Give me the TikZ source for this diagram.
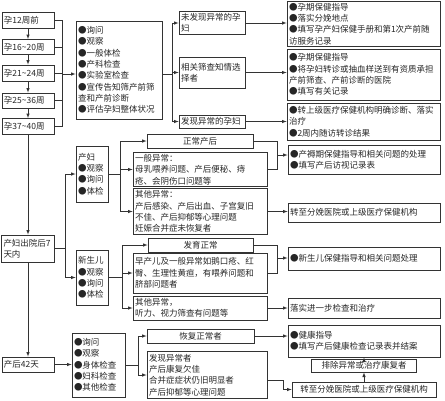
\documentclass[tikz,border=0pt]{standalone}
\usepackage{fontspec}
\setmainfont{Noto Sans CJK SC}
\usetikzlibrary{positioning, arrows}

\begin{document}
\begin{tikzpicture}[x=1pt, y=-1pt,
    caja/.style={draw=black!80, line width=0.8pt, inner sep=2pt, align=left,
        font=\fontsize{8.5}{11.3}\selectfont, text=black!85},
    centro/.style={caja, align=center},
    linea/.style={draw=black!80, line width=0.6pt},
    flecha/.style={linea, -latex}]
    \useasboundingbox (0,0) rectangle (445,400);

    % Semanas de embarazo
    \node[caja, text width=48pt, minimum height=16pt] (s12) at (28,20) {孕12周前};
    \node[caja, text width=48pt, minimum height=15pt] (s16) at (28,47) {孕16\textasciitilde20周};
    \node[caja, text width=48pt, minimum height=16pt] (s21) at (28,73) {孕21\textasciitilde24周};
    \node[caja, text width=48pt, minimum height=15pt] (s25) at (28,100.5) {孕25\textasciitilde36周};
    \node[caja, text width=48pt, minimum height=16pt] (s37) at (28,126.5) {孕37\textasciitilde40周};

    % Examen prenatal
    \node[caja, text width=82pt, minimum height=98pt] (examen) at (119,70)
        {●询问\\●观察\\●一般体检\\●产科检查\\●实验室检查\\●宣传告知筛产前筛\\查和产前诊断\\●评估孕妇整体状况};

    % Resultados prenatales
    \node[caja, text width=62pt, minimum height=22pt] (normal) at (212,23) {未发现异常的孕\\妇};
    \node[caja, text width=62pt, minimum height=31pt] (cribado) at (212,72.5) {相关筛查知情选\\择者};
    \node[caja, text width=62pt, minimum height=13pt] (anomala) at (212,121.5) {发现异常的孕妇};

    \node[caja, text width=149pt, minimum height=44pt] (ind1) at (363.5,24)
        {●孕期保健指导\\●落实分娩地点\\●填写孕产妇保健手册和第1次产前随\\访服务记录};
    \node[caja, text width=149pt, minimum height=51pt] (ind2) at (363.5,74.5)
        {●孕期保健指导\\●将孕妇转诊或抽血样送到有资质承担\\产前筛查、产前诊断的医院\\●填写有关记录};
    \node[caja, text width=149pt, minimum height=37pt] (ind3) at (363.5,121.5)
        {●转上级医疗保健机构明确诊断、落实\\治疗\\●2周内随访转诊结果};

    % Visita a los 7 dias
    \node[caja, text width=49pt, minimum height=27pt] (parto7) at (28,248.5) {产妇出院后7\\天内};
    \node[caja, text width=28pt, minimum height=56pt] (madre) at (92,174) {产妇\\●观察\\●询问\\●体检};
    \node[caja, text width=28pt, minimum height=55pt] (bebe) at (92,277.5) {新生儿\\●观察\\●询问\\●体检};

    \node[centro, text width=102pt, minimum height=14pt] (mnormal) at (200,141) {正常产后};
    \node[caja, text width=130pt, minimum height=33pt] (mcomun) at (200,169.5)
        {一般异常：\\母乳喂养问题、产后便秘、痔\\疮、会阴伤口问题等};
    \node[caja, text width=130pt, minimum height=45pt] (motras) at (200,211.5)
        {其他异常：\\产后感染、产后出血、子宫复旧\\不佳、产后抑郁等心理问题\\妊娠合并症未恢复者};
    \node[caja, text width=148pt, minimum height=29pt] (mguia) at (364,159.5)
        {●产褥期保健指导和相关问题的处理\\●填写产后访视记录表};
    \node[caja, text width=148pt, minimum height=19pt] (mtraslado) at (364,212.5)
        {转至分娩医院或上级医疗保健机构};

    \node[centro, text width=101pt, minimum height=14pt] (bnormal) at (200.5,245) {发育正常};
    \node[caja, text width=130pt, minimum height=40pt] (bcomun) at (200,273)
        {早产儿及一般异常如鹅口疮、红\\臀、生理性黄疸，有喂养问题和\\脐部问题者};
    \node[caja, text width=130pt, minimum height=24pt] (botras) at (200,308)
        {其他异常，\\听力、视力筛查有问题等};
    \node[caja, text width=148pt, minimum height=23pt] (bguia) at (364,258.5)
        {●新生儿保健指导和相关问题处理};
    \node[caja, text width=148pt, minimum height=20pt] (bcontrol) at (364,308)
        {落实进一步检查和治疗};

    % Visita a los 42 dias
    \node[caja, text width=48pt, minimum height=15pt] (parto42) at (28,364.5) {产后42天};
    \node[caja, text width=49pt, minimum height=64pt] (examen42) at (98.5,365)
        {●询问\\●观察\\●身体检查\\●妇科检查\\●其他检查};
    \node[centro, text width=103pt, minimum height=14pt] (recup) at (200.5,336) {恢复正常者};
    \node[caja, text width=116pt, minimum height=47pt] (hallazgo) at (207,375)
        {发现异常者\\产后康复欠佳\\合并症症状仍旧明显者\\产后抑郁等心理问题};
    \node[caja, text width=148pt, minimum height=32pt] (cierre) at (364,341)
        {●健康指导\\●填写产后健康检查记录表并结案};
    \node[centro, text width=101pt, minimum height=13pt] (descarte) at (364,365.5) {排除异常或治疗康复者};
    \node[centro, text width=140pt, minimum height=15pt] (traslado42) at (364,389.5)
        {转至分娩医院或上级医疗保健机构};

    % Flechas verticales de la izquierda
    \foreach \a/\b in {s12/s16, s16/s21, s21/s25, s25/s37, s37/parto7, parto7/parto42}
        \draw[flecha] (\a.south) -- (\b.north);

    % Union semanas -> examen
    \coordinate (ui) at (62,74);
    \foreach \n in {s12,s16,s21,s25,s37}
        \draw[linea] (\n.east) -- (\n.east -| ui);
    \draw[linea] (s12.east -| ui) -- (s37.east -| ui);
    \draw[flecha] (ui) -- (ui -| examen.west);

    % Examen -> resultados
    \coordinate (ue) at (172,74);
    \draw[linea] (examen.east |- ue) -- (ue);
    \draw[linea] (ue |- normal) -- (ue |- anomala);
    \foreach \n in {normal, cribado, anomala}
        \draw[flecha] (ue |- \n) -- (\n.west);
    \draw[flecha] (normal.east) -- (normal.east -| ind1.west);
    \draw[flecha] (cribado.east) -- (cribado.east -| ind2.west);
    \draw[flecha] (anomala.east) -- (anomala.east -| ind3.west);

    % Siete dias
    \coordinate (up) at (65,0);
    \draw[linea] (parto7.east) -- (parto7.east -| up);
    \draw[linea] (up |- madre) -- (up |- bebe);
    \draw[flecha] (up |- madre) -- (madre.west);
    \draw[flecha] (up |- bebe) -- (bebe.west);

    \coordinate (um) at (120,0);
    \draw[linea] (madre.east) -- (madre.east -| um);
    \draw[linea] (um |- mnormal) -- (um |- motras);
    \foreach \n in {mnormal, mcomun, motras}
        \draw[flecha] (um |- \n) -- (\n.west);
    \coordinate (umd) at (277,155);
    \draw[linea] (mnormal.east) -- (mnormal.east -| umd) -- (umd |- mcomun.east) -- (mcomun.east);
    \draw[flecha] (umd) -- (umd -| mguia.west);
    \draw[flecha] (motras.east) -- (motras.east -| mtraslado.west);

    \coordinate (ub) at (122,0);
    \draw[linea] (bebe.east) -- (bebe.east -| ub);
    \draw[linea] (ub |- bnormal) -- (ub |- botras);
    \foreach \n in {bnormal, bcomun, botras}
        \draw[flecha] (ub |- \n) -- (\n.west);
    \coordinate (ubd) at (277,258);
    \draw[linea] (bnormal.east) -- (bnormal.east -| ubd) -- (ubd |- bcomun.east) -- (bcomun.east);
    \draw[flecha] (ubd) -- (ubd -| bguia.west);
    \draw[flecha] (botras.east) -- (botras.east -| bcontrol.west);

    % Cuarenta y dos dias
    \draw[flecha] (parto42.east) -- (parto42.east -| examen42.west);
    \coordinate (u42) at (138,0);
    \draw[linea] (examen42.east) -- (examen42.east -| u42);
    \draw[linea] (u42 |- recup) -- (u42 |- hallazgo);
    \draw[flecha] (u42 |- recup) -- (recup.west);
    \draw[flecha] (u42 |- hallazgo) -- (hallazgo.west);
    \draw[flecha] (recup.east) -- (recup.east -| cierre.west);
    \coordinate (uh) at (283,380);
    \draw[flecha] (hallazgo.east |- uh) -- (uh) -- (uh |- traslado42) -- (traslado42.west);
    \draw[flecha] (traslado42.north) -- (descarte.south);
    \draw[flecha] (descarte.north) -- (cierre.south);
\end{tikzpicture}
\end{document}
